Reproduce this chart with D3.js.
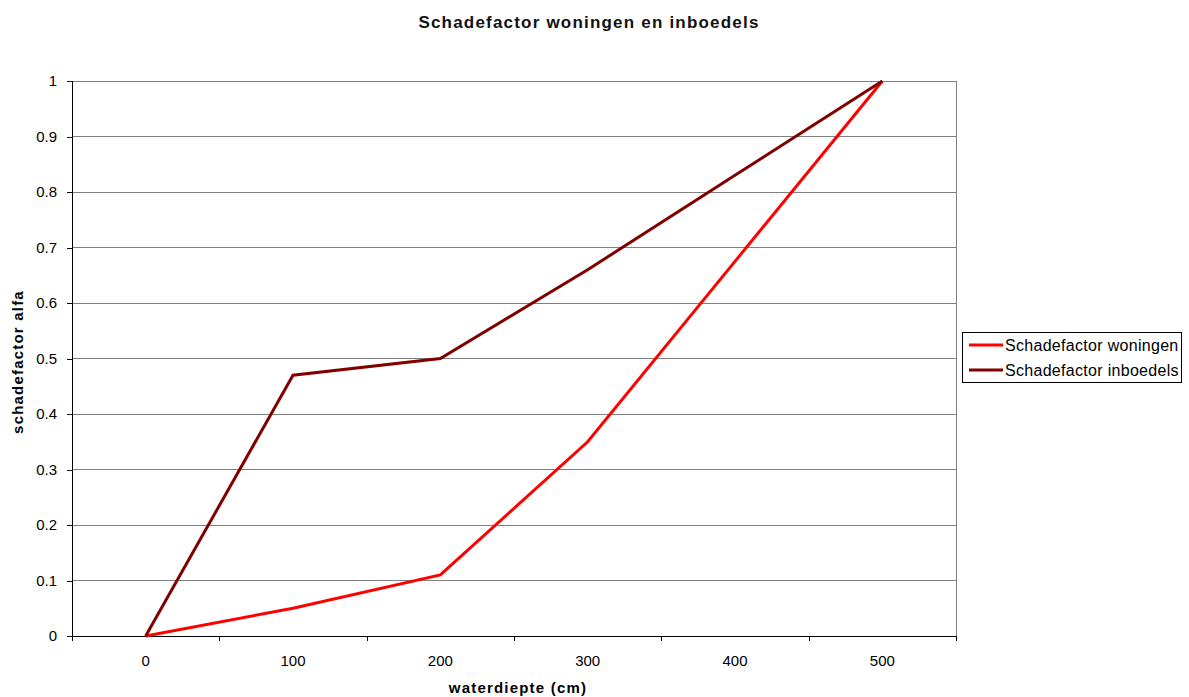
<!DOCTYPE html>
<html><head><meta charset="utf-8">
<script src="https://cdn.jsdelivr.net/npm/d3@7"></script>
<style>body{margin:0;background:#fff}svg{display:block;font-family:"Liberation Sans",Arial,sans-serif}</style>
</head><body><svg id="c" width="1189" height="697"></svg>
<script>
const depths = [0, 100, 200, 300, 400, 500];
const woningen = [0, 0.05, 0.11, 0.35, 0.675, 1.0];
const inboedels = [0, 0.47, 0.50, 0.66, 0.83, 1.0];
const seriesNames = ["Schadefactor woningen", "Schadefactor inboedels"];
const seriesColors = ["#ff0000", "#800000"];
const yTicks = [0, 0.1, 0.2, 0.3, 0.4, 0.5, 0.6, 0.7, 0.8, 0.9, 1];
const xTickLabels = [0, 100, 200, 300, 400, 500];
const xTickMarks = [-50, 50, 150, 250, 350, 450, 550];

const svg = d3.select("#c");
const L = 72, R = 956, T = 81, B = 636;
const x = d3.scaleLinear().domain([-50, 550]).range([L, R]);
const y = d3.scaleLinear().domain([0, 1]).range([B, T]);

svg.append("text").attr("x", 589).attr("y", 28).attr("text-anchor", "middle")
  .attr("font-size", 17).attr("font-weight", "bold").attr("letter-spacing", 1.2)
  .attr("fill", "#111").text("Schadefactor woningen en inboedels");

// gridlines
svg.append("g").selectAll("line").data(yTicks.filter(d => d > 0)).join("line")
  .attr("x1", L).attr("x2", R).attr("y1", d => y(d)).attr("y2", d => y(d))
  .attr("stroke", "#808080").attr("stroke-width", 1).attr("shape-rendering", "crispEdges");
// plot border right
svg.append("line").attr("x1", R).attr("x2", R).attr("y1", T).attr("y2", B)
  .attr("stroke", "#808080").attr("shape-rendering", "crispEdges");

// y axis
const yAxis = d3.axisLeft(y).tickValues(yTicks).tickSize(5).tickPadding(10).tickFormat(d => String(+d.toFixed(1)));
const gy = svg.append("g").attr("transform", `translate(${L},0)`).call(yAxis);
gy.select(".domain").attr("stroke", "#000").attr("d", `M-5,${B}H0V${T}H-5`).attr("shape-rendering", "crispEdges");
gy.selectAll(".tick line").attr("stroke", "#000").attr("shape-rendering", "crispEdges");
gy.selectAll("text").attr("font-size", 15).attr("fill", "#000").attr("font-family", "Liberation Sans, Arial, sans-serif");

// x axis: tick marks between categories, labels at categories
const gx = svg.append("g").attr("transform", `translate(0,${B})`);
gx.call(d3.axisBottom(x).tickValues(xTickMarks).tickSize(5).tickFormat(""));
gx.select(".domain").attr("stroke", "#000").attr("d", `M${L},0H${R}`).attr("shape-rendering", "crispEdges");
gx.selectAll(".tick line").attr("stroke", "#000").attr("shape-rendering", "crispEdges");
gx.selectAll(".lbl").data(xTickLabels).join("text").attr("class", "lbl")
  .attr("x", d => x(d)).attr("y", 30).attr("text-anchor", "middle")
  .attr("font-size", 15).attr("fill", "#000").text(d => d);

// axis titles
svg.append("text").attr("x", 518).attr("y", 693).attr("text-anchor", "middle")
  .attr("font-size", 15).attr("font-weight", "bold").attr("letter-spacing", 1.2).text("waterdiepte (cm)");
svg.append("text").attr("transform", `translate(23,362) rotate(-90)`).attr("text-anchor", "middle")
  .attr("font-size", 15).attr("font-weight", "bold").attr("letter-spacing", 1.2).text("schadefactor alfa");

// lines
const line = d3.line().x((d, i) => x(depths[i])).y(d => y(d));
[woningen, inboedels].forEach((s, k) => {
  svg.append("path").datum(s).attr("d", line).attr("fill", "none")
    .attr("stroke", seriesColors[k]).attr("stroke-width", 3).attr("stroke-linejoin", "miter");
});

// legend
const lg = svg.append("g");
lg.append("rect").attr("x", 962.5).attr("y", 332.5).attr("width", 219).attr("height", 50)
  .attr("fill", "#fff").attr("stroke", "#000").attr("stroke-width", 1);
seriesNames.forEach((n, i) => {
  const yy = 345 + i * 25;
  lg.append("line").attr("x1", 969).attr("x2", 1003).attr("y1", yy).attr("y2", yy)
    .attr("stroke", seriesColors[i]).attr("stroke-width", 3);
  lg.append("text").attr("x", 1005).attr("y", yy + 6).attr("font-size", 16)
    .attr("letter-spacing", 0.3).text(n);
});
</script></body></html>
